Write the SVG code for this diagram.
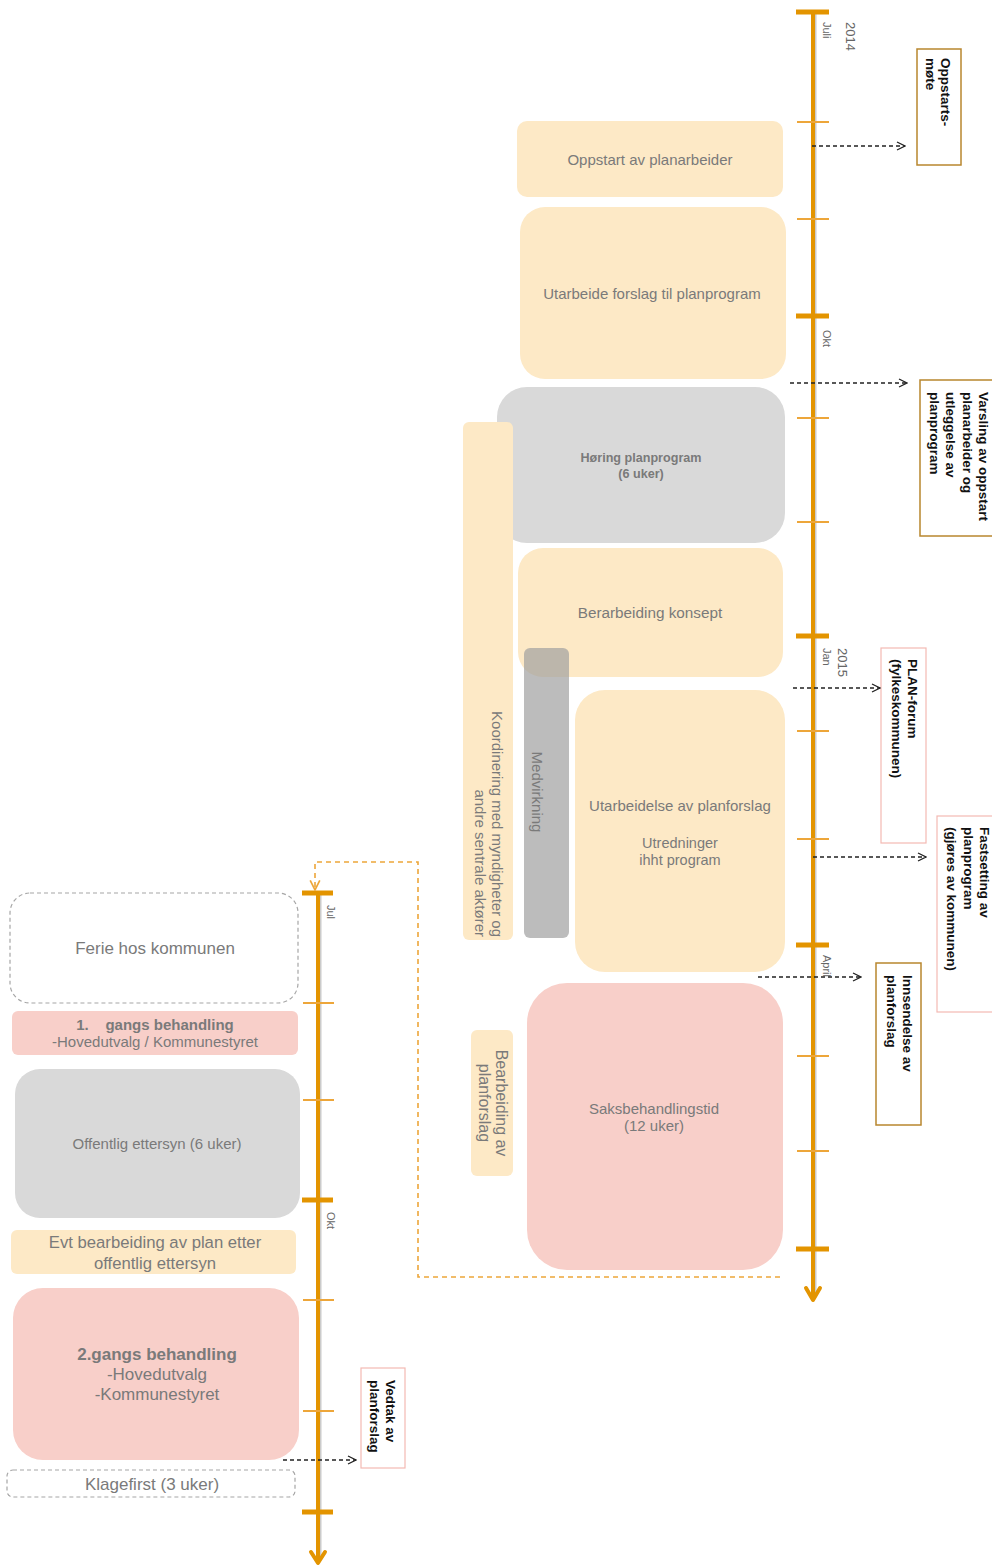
<svg xmlns="http://www.w3.org/2000/svg" width="992" height="1568" viewBox="0 0 992 1568">
<defs>
<style>
.peach{fill:#FDE9C6}
.gray{fill:#D9D9D9}
.pink{fill:#F8CFC9}
.t{font-family:"Liberation Sans",Arial,sans-serif;fill:#7A7A7A;text-anchor:middle}
.ann{font-family:"Liberation Sans",Arial,sans-serif;font-weight:bold;font-size:13.5px;fill:#111}
.lab{font-family:"Liberation Sans",Arial,sans-serif;fill:#666;font-size:11px}
.axis{stroke:#E39400;stroke-width:4;fill:none}
.shadow{stroke:#A8A8A8;stroke-width:3;fill:none;opacity:0.6}
.major{stroke:#E39400;stroke-width:5}
.minor{stroke:#EDA63A;stroke-width:2}
.gold{fill:#fff;stroke:#B8862E;stroke-width:1.5}
.rose{fill:#fff;stroke:#F4B9B3;stroke-width:1.2}
.dash{stroke:#222;stroke-width:1.4;stroke-dasharray:4,3;fill:none}
.odash{stroke:#EDA63A;stroke-width:1.6;stroke-dasharray:5,4;fill:none}
.dbox{fill:#fff;stroke:#A6A6A6;stroke-width:1.2;stroke-dasharray:4,3}
</style>
<marker id="open" viewBox="0 0 10 10" refX="9" refY="5" markerWidth="10" markerHeight="10" markerUnits="userSpaceOnUse" orient="auto">
<path d="M1,1 L9,5 L1,9" fill="none" stroke="#222" stroke-width="1.3"/>
</marker>
<marker id="openO" viewBox="0 0 10 10" refX="9" refY="5" markerWidth="12" markerHeight="12" markerUnits="userSpaceOnUse" orient="auto">
<path d="M1,1 L9,5 L1,9" fill="none" stroke="#EDA63A" stroke-width="1.4"/>
</marker>
</defs>
<rect width="992" height="1568" fill="#fff"/>

<!-- Right timeline -->
<g id="timeline-right">
<line class="shadow" x1="815" y1="14" x2="815" y2="1296"/>
<line class="axis" x1="813" y1="12" x2="813" y2="1300"/>
<path d="M806,1288 L813,1300 L820,1288" fill="none" stroke="#E39400" stroke-width="4" stroke-linejoin="round" stroke-linecap="round"/>
<line class="major" x1="796" y1="12" x2="829" y2="12"/>
<line class="major" x1="796" y1="316" x2="829" y2="316"/>
<line class="major" x1="796" y1="636" x2="829" y2="636"/>
<line class="major" x1="796" y1="945" x2="829" y2="945"/>
<line class="major" x1="796" y1="1249" x2="829" y2="1249"/>
<line class="minor" x1="797" y1="122" x2="829" y2="122"/>
<line class="minor" x1="797" y1="219" x2="829" y2="219"/>
<line class="minor" x1="797" y1="418" x2="829" y2="418"/>
<line class="minor" x1="797" y1="522" x2="829" y2="522"/>
<line class="minor" x1="797" y1="731" x2="829" y2="731"/>
<line class="minor" x1="797" y1="839" x2="829" y2="839"/>
<line class="minor" x1="797" y1="1056" x2="829" y2="1056"/>
<line class="minor" x1="797" y1="1151" x2="829" y2="1151"/>
<text class="lab" style="font-size:13px" transform="translate(846,22) rotate(90)">2014</text>
<text class="lab" transform="translate(823,22) rotate(90)">Juli</text>
<text class="lab" transform="translate(823,330) rotate(90)">Okt</text>
<text class="lab" style="font-size:13px" transform="translate(838,648) rotate(90)">2015</text>
<text class="lab" transform="translate(823,648) rotate(90)">Jan</text>
<text class="lab" transform="translate(823,955) rotate(90)">April</text>
</g>

<!-- Left timeline -->
<g id="timeline-left">
<line class="shadow" x1="320" y1="895" x2="320" y2="1560"/>
<line class="axis" x1="318" y1="893" x2="318" y2="1562"/>
<path d="M311,1552 L318,1563 L325,1552" fill="none" stroke="#E39400" stroke-width="4" stroke-linejoin="round" stroke-linecap="round"/>
<line class="major" x1="302" y1="893" x2="333" y2="893"/>
<line class="major" x1="302" y1="1200" x2="333" y2="1200"/>
<line class="major" x1="302" y1="1512" x2="333" y2="1512"/>
<line class="minor" x1="303" y1="1003" x2="334" y2="1003"/>
<line class="minor" x1="303" y1="1100" x2="334" y2="1100"/>
<line class="minor" x1="303" y1="1300" x2="334" y2="1300"/>
<line class="minor" x1="303" y1="1411" x2="334" y2="1411"/>
<text class="lab" transform="translate(327,905) rotate(90)">Jul</text>
<text class="lab" transform="translate(327,1212) rotate(90)">Okt</text>
</g>

<!-- Right nodes -->
<g id="n-oppstart"><rect class="peach" x="517" y="121" width="266" height="76" rx="10"/><text class="t" x="650" y="165" font-size="15">Oppstart av planarbeider</text></g>
<g id="n-utarbeide"><rect class="peach" x="520" y="207" width="266" height="172" rx="25"/><text class="t" x="652" y="299" font-size="15">Utarbeide forslag til planprogram</text></g>
<g id="n-horing"><rect class="gray" x="497" y="387" width="288" height="156" rx="30"/><text class="t" x="641" y="462" font-size="12.6" font-weight="bold" fill="#888">Høring planprogram<tspan x="641" dy="16">(6 uker)</tspan></text></g>
<g id="n-berarbeiding"><rect class="peach" x="518" y="548" width="265" height="129" rx="25"/><text class="t" x="650" y="618" font-size="15.3">Berarbeiding konsept</text></g>
<g id="n-koordinering"><rect class="peach" x="463" y="422" width="50" height="518" rx="6"/><text class="t" style="text-anchor:end" font-size="15" transform="translate(492,937) rotate(90)">Koordinering med myndigheter og<tspan x="0" dy="17">andre sentrale aktører</tspan></text></g>
<g id="n-utarbeidelse"><rect class="peach" x="575" y="690" width="210" height="282" rx="30"/><text class="t" x="680" y="811" font-size="15">Utarbeidelse av planforslag<tspan x="680" dy="37" font-size="14.5">Utredninger</tspan><tspan x="680" dy="17" font-size="14.5">ihht program</tspan></text></g>
<g id="n-medvirkning"><rect x="524" y="648" width="45" height="290" rx="6" fill="#A0A0A0" opacity="0.7"/><text class="t" font-size="15" transform="translate(532,792) rotate(90)">Medvirkning</text></g>
<g id="n-bearbeiding"><rect class="peach" x="471" y="1030" width="42" height="146" rx="6"/><text class="t" font-size="16" transform="translate(496,1103) rotate(90)">Bearbeiding av<tspan x="0" dy="17">planforslag</tspan></text></g>
<g id="n-saks"><rect class="pink" x="527" y="983" width="256" height="287" rx="40"/><text class="t" x="654" y="1114" font-size="15">Saksbehandlingstid<tspan x="654" dy="17">(12 uker)</tspan></text></g>

<!-- Annotation boxes -->
<g id="a-oppstartsmote"><rect class="gold" x="917" y="49" width="44" height="116"/><text class="ann" transform="translate(941,58) rotate(90)">Oppstarts-<tspan x="0" dy="15">møte</tspan></text></g>
<g id="a-varsling"><rect class="gold" x="920" y="380" width="80" height="156"/><text class="ann" transform="translate(979,392) rotate(90)">Varsling av oppstart<tspan x="0" dy="16.5">planarbeider og</tspan><tspan x="0" dy="16.5">utleggelse av</tspan><tspan x="0" dy="16.5">planprogram</tspan></text></g>
<g id="a-planforum"><rect class="rose" x="881" y="648" width="45" height="195"/><text class="ann" transform="translate(908,659) rotate(90)">PLAN-forum<tspan x="0" dy="16">(fylkeskommunen)</tspan></text></g>
<g id="a-fastsetting"><rect class="rose" x="937" y="816" width="65" height="196"/><text class="ann" transform="translate(980,827) rotate(90)">Fastsetting av<tspan x="0" dy="16.5">planprogram</tspan><tspan x="0" dy="16.5">(gjøres av kommunen)</tspan></text></g>
<g id="a-innsendelse"><rect class="gold" x="876" y="963" width="45" height="162"/><text class="ann" transform="translate(903,975) rotate(90)">Innsendelse av<tspan x="0" dy="16.5">planforslag</tspan></text></g>
<g id="a-vedtak"><rect class="rose" x="361" y="1368" width="44" height="100"/><text class="ann" transform="translate(386,1380) rotate(90)">Vedtak av<tspan x="0" dy="16">planforslag</tspan></text></g>

<!-- Left nodes -->
<g id="n-ferie"><rect class="dbox" x="10" y="893" width="288" height="110" rx="20"/><text class="t" x="155" y="954" font-size="17">Ferie hos kommunen</text></g>
<g id="n-1gang"><rect class="pink" x="12" y="1011" width="286" height="44" rx="6"/><text class="t" x="155" y="1030" font-size="15" font-weight="bold">1.&#160;&#160;&#160;&#160;gangs behandling</text><text class="t" x="155" y="1047" font-size="15">-Hovedutvalg / Kommunestyret</text></g>
<g id="n-offentlig"><rect class="gray" x="15" y="1069" width="285" height="149" rx="25"/><text class="t" x="157" y="1149" font-size="15">Offentlig ettersyn (6 uker)</text></g>
<g id="n-evt"><rect class="peach" x="11" y="1230" width="285" height="44" rx="6"/><text class="t" x="155" y="1248" font-size="16.7">Evt bearbeiding av plan etter<tspan x="155" dy="21">offentlig ettersyn</tspan></text></g>
<g id="n-2gang"><rect class="pink" x="13" y="1288" width="286" height="172" rx="30"/><text class="t" x="157" y="1360" font-size="17" font-weight="bold">2.gangs behandling</text><text class="t" x="157" y="1380" font-size="17">-Hovedutvalg<tspan x="157" dy="20">-Kommunestyret</tspan></text></g>
<g id="n-klagefrist"><rect class="dbox" x="7" y="1470" width="288" height="27" rx="6"/><text class="t" x="152" y="1490" font-size="17">Klagefirst (3 uker)</text></g>

<!-- Connectors -->
<g id="connectors">
<line class="dash" x1="812" y1="146" x2="905" y2="146" marker-end="url(#open)"/>
<line class="dash" x1="790" y1="383" x2="907" y2="383" marker-end="url(#open)"/>
<line class="dash" x1="793" y1="688" x2="880" y2="688" marker-end="url(#open)"/>
<line class="dash" x1="813" y1="857" x2="926" y2="857" marker-end="url(#open)"/>
<line class="dash" x1="758" y1="977" x2="861" y2="977" marker-end="url(#open)"/>
<line class="dash" x1="283" y1="1460" x2="356" y2="1460" marker-end="url(#open)"/>
<path class="odash" d="M780,1277 L418,1277 L418,862 L315,862 L315,890" marker-end="url(#openO)"/>
</g>
</svg>
